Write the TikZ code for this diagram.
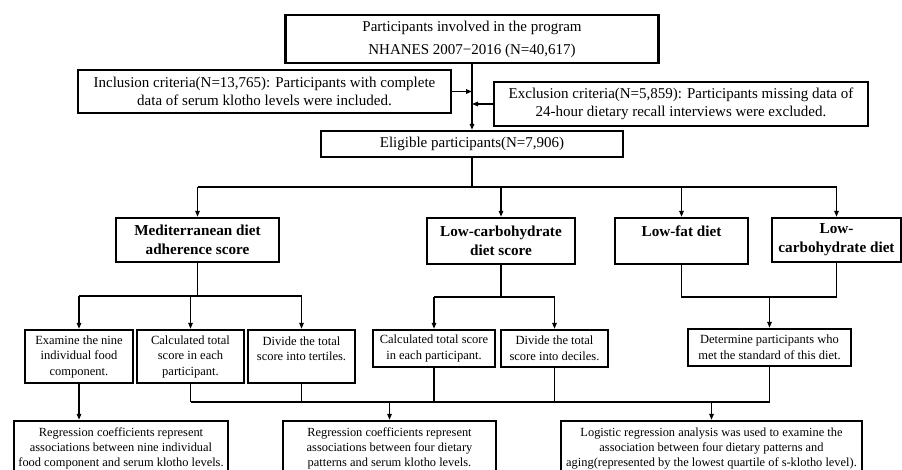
\documentclass[tikz,border=0pt]{standalone}
\usepackage{fontspec}
\setmainfont{Liberation Serif}
\usetikzlibrary{arrows.meta}

\begin{document}
\begin{tikzpicture}[x=1pt,y=-1pt,line width=1.4pt,inner sep=0pt,
    box/.style={draw,line width=2.4pt,align=center},
    big/.style={font=\fontsize{15}{18}\selectfont},
    head/.style={font=\fontsize{15.2}{19}\selectfont\bfseries},
    small/.style={font=\fontsize{12.5}{15.5}\selectfont},
    tiny/.style={font=\fontsize{12.4}{15}\selectfont},
    flow/.style={-{Triangle[length=6pt,width=4.5pt]}}]
    \path[use as bounding box] (0,0) rectangle (902,470);
    % screening
    \node[box,font=\fontsize{15}{23}\selectfont,minimum width=373,minimum height=48] (start) at (472,39)
      {Participants involved in the program\\NHANES 2007−2016 (N=40,617)};
    \node[box,big,minimum width=373,minimum height=43] (incl) at (264.5,91.5)
      {Inclusion criteria(N=13,765): Participants with complete\\data of serum klotho levels were included.};
    \node[box,big,minimum width=374,minimum height=44] (excl) at (681,104)
      {Exclusion criteria(N=5,859): Participants missing data of\\24-hour dietary recall interviews were excluded.};
    \node[box,big,minimum width=302,minimum height=26] (elig) at (472,144)
      {Eligible participants(N=7,906)};
    % dietary patterns
    \node[box,head,minimum width=163,minimum height=44] (med) at (197.5,240)
      {Mediterranean diet\\adherence score};
    \node[box,head,minimum width=148,minimum height=46] (lcs) at (501,241)
      {Low-carbohydrate\\diet score};
    \node[box,head,minimum width=133,minimum height=46] (lf) at (681.5,241)
      {Low-fat diet\\\mbox{}};
    \node[box,head,minimum width=129,minimum height=44] (lcd) at (836.5,240)
      {Low-\\carbohydrate diet};
    % scoring
    \node[box,small,minimum width=108,minimum height=53] (m1) at (79,356.5)
      {Examine the nine\\individual food\\component.};
    \node[box,small,minimum width=107,minimum height=53] (m2) at (190.5,356.5)
      {Calculated total\\score in each\\participant.};
    \node[box,small,minimum width=107,minimum height=53] (m3) at (301.5,356.5)
      {Divide the total\\score into tertiles.\\\mbox{}};
    \node[box,small,minimum width=122,minimum height=37] (c1) at (434,348.5)
      {Calculated total score\\in each participant.};
    \node[box,small,minimum width=107,minimum height=37] (c2) at (554.5,348.5)
      {Divide the total\\score into deciles.};
    \node[box,small,minimum width=163,minimum height=37] (d1) at (769.5,347.5)
      {Determine participants who\\met the standard of this diet.};
    % analyses
    \node[box,tiny,minimum width=214,minimum height=55] (r1) at (121,448.5)
      {Regression coefficients represent\\associations between nine individual\\food component and serum klotho levels.};
    \node[box,tiny,minimum width=213,minimum height=55] (r2) at (389.5,448.5)
      {Regression coefficients represent\\associations between four dietary\\patterns and serum klotho levels.};
    \node[box,tiny,minimum width=301,minimum height=55] (r3) at (711.5,448.5)
      {Logistic regression analysis was used to examine the\\association between four dietary patterns and\\aging(represented by the lowest quartile of s-klotho level).};
    % connectors
    \draw[flow] (start.south) -- (elig.north);
    \draw[flow] (incl.east) -- (incl.east -| start.south);
    \draw[flow] (excl.west) -- (excl.west -| start.south);
    \coordinate (bus) at (472,187);
    \draw (elig.south) -- (bus);
    \draw (med.north |- bus) -- (lcd.north |- bus);
    \foreach \n in {med,lcs,lf,lcd} \draw[flow] (\n.north |- bus) -- (\n.north);
    \coordinate (medbus) at (197.5,296);
    \draw (med.south) -- (medbus);
    \draw (m1.north |- medbus) -- (m3.north |- medbus);
    \foreach \n in {m1,m2,m3} \draw[flow] (\n.north |- medbus) -- (\n.north);
    \coordinate (lcsbus) at (501,297);
    \draw (lcs.south) -- (lcsbus);
    \draw (c1.north |- lcsbus) -- (c2.north |- lcsbus);
    \foreach \n in {c1,c2} \draw[flow] (\n.north |- lcsbus) -- (\n.north);
    \coordinate (dietbus) at (769.5,297);
    \draw (lf.south) -- (lf.south |- dietbus) -- (lcd.south |- dietbus) -- (lcd.south);
    \draw[flow] (dietbus) -- (d1.north);
    \coordinate (outbus) at (389.5,402);
    \foreach \n in {m2,m3,c1,c2,d1} \draw (\n.south) -- (\n.south |- outbus);
    \draw (m2.south |- outbus) -- (d1.south |- outbus);
    \draw[flow] (m1.south) -- (m1.south |- r1.north);
    \draw[flow] (outbus) -- (r2.north);
    \draw[flow] (r3.north |- outbus) -- (r3.north);
  \end{tikzpicture}
\end{document}
